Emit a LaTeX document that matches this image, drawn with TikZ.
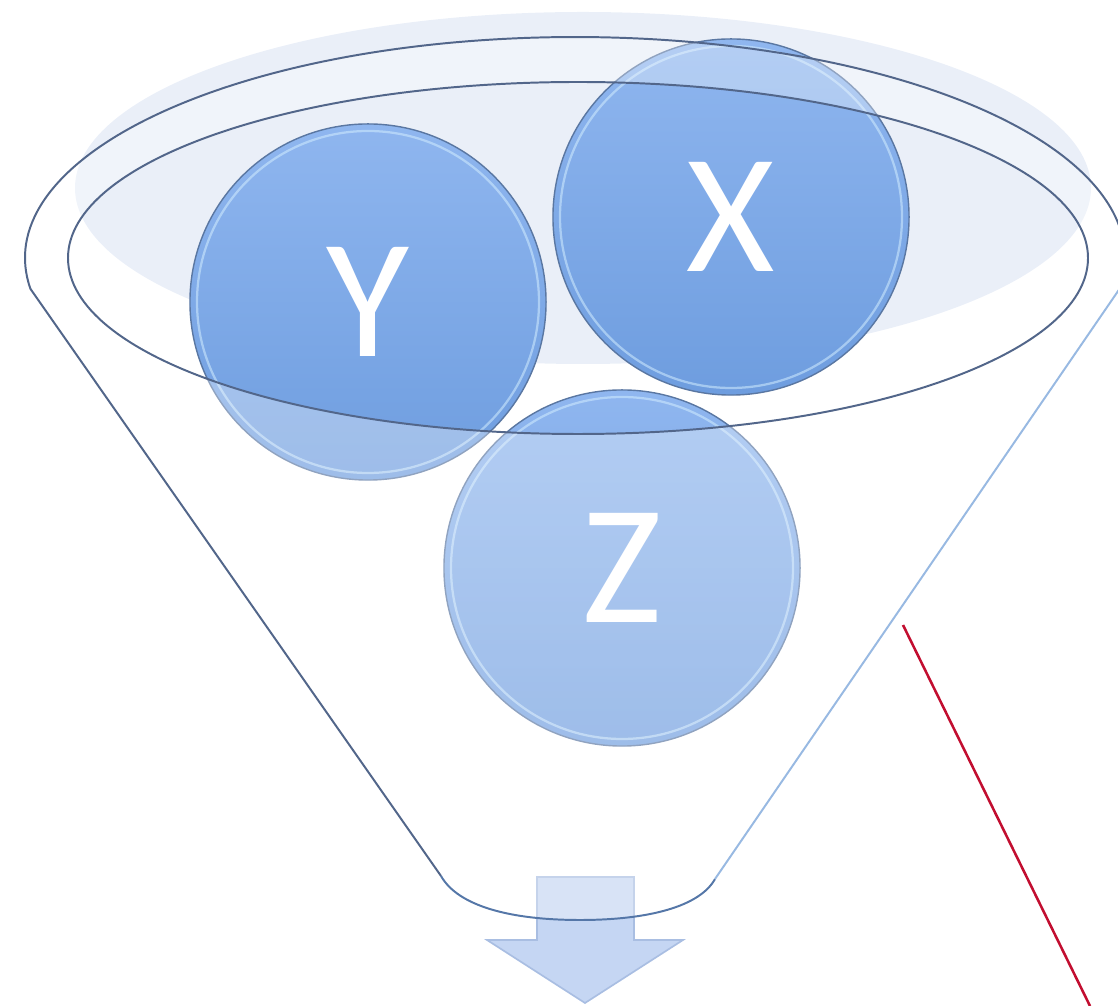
\documentclass[tikz,border=0pt]{standalone}
\usepackage{fontspec}
\setmainfont{Carlito}
\usepackage{tikz}
\usetikzlibrary{calc}

\definecolor{haze}{HTML}{EAEFF8}
\definecolor{balltop}{HTML}{8FB6EF}
\definecolor{ballbottom}{HTML}{6E9DDF}
\definecolor{balledge}{HTML}{5A77A2}
\definecolor{glint}{HTML}{D2EDFF}
\definecolor{rimline}{HTML}{52668A}
\definecolor{stemline}{HTML}{5577A8}
\definecolor{sideline}{HTML}{98B9E2}
\definecolor{outfill}{HTML}{C5D6F3}
\definecolor{outedge}{HTML}{A9BEE2}
\definecolor{marker}{HTML}{C20E30}

\begin{document}
\begin{tikzpicture}[
x=0.025cm,
y=0.025cm,
ball/.style={circle,draw=balledge,line width=1pt,top color=balltop,bottom color=ballbottom,minimum size=8.9cm,inner sep=0pt,text=white,font=\fontsize{121}{121}\selectfont},
ring/.style={draw=glint,opacity=0.55,line width=1.6pt},
rim/.style={draw=rimline,line width=1.4pt},
glass/.style={fill=white,fill opacity=0.33,even odd rule},
outlet/.style={fill=outfill,draw=outedge,line width=1.2pt,line join=miter}
]
\useasboundingbox (0,0) rectangle (1118,1006);

\fill[haze] (583,818) ellipse[x radius=508,y radius=176];

\draw[outlet] (537,129) -- (634,129) -- (634,66) -- (683,66) -- (585,3) -- (487,66) -- (537,66) -- cycle;

\node[ball] (y) at (368,704) {Y};
\node[ball] (x) at (731,789) {X};
\node[ball] (z) at (622,438) {Z};
\draw[ring] (y.center) circle[radius=171];
\draw[ring] (x.center) circle[radius=171];
\draw[ring] (z.center) circle[radius=171];

\coordinate (rimleft) at (30.4,717.2);
\coordinate (rimright) at (1119.6,717.2);
\coordinate (tipleft) at (441,130);
\coordinate (tipright) at (715,127);
\coordinate (neck) at (580,86);

\path[glass] (rimleft) arc[start angle=188,end angle=-8,x radius=550,y radius=221] -- (tipright)
  .. controls (700,100) and (650,86) .. (neck) .. controls (510,86) and (458,100) .. (tipleft) -- cycle
  (578,748) ellipse[x radius=510,y radius=176];

\draw[rim] (rimleft) arc[start angle=188,end angle=-8,x radius=550,y radius=221];
\draw[rim] (rimleft) -- (tipleft);
\draw[draw=stemline,line width=1.4pt] (tipright) .. controls (700,100) and (650,86) .. (neck) .. controls (510,86) and (458,100) .. (tipleft);
\draw[draw=sideline,line width=1.4pt] (rimright) -- (tipright);
\draw[rim] (578,748) ellipse[x radius=510,y radius=176];

\coordinate (markstart) at (903,381);
\coordinate (markend) at (1090,0);
\draw[marker,line width=1.8pt] (markstart) -- (markend);
\end{tikzpicture}
\end{document}
